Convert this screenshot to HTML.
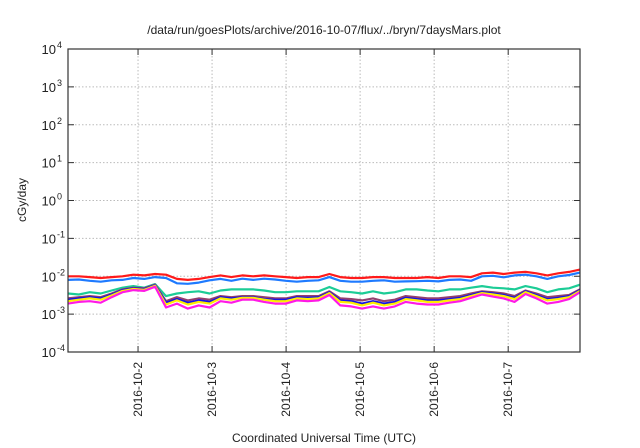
<!DOCTYPE html>
<html><head><meta charset="utf-8"><style>
body{margin:0;background:#fff;}
svg{display:block;font-family:"Liberation Sans",sans-serif;}
</style></head><body>
<svg id="chart" width="640" height="448" viewBox="0 0 640 448">
<text x="324" y="34" font-size="12" text-anchor="middle" fill="#222">/data/run/goesPlots/archive/2016-10-07/flux/../bryn/7daysMars.plot</text>
<text transform="translate(26,200) rotate(-90)" font-size="12" text-anchor="middle" fill="#222">cGy/day</text>
<text x="324" y="442" font-size="12" text-anchor="middle" fill="#222">Coordinated Universal Time (UTC)</text>
<g id="grid"></g>
<g id="ticks"></g>
<g id="series"></g>
<rect x="68" y="49" width="512" height="303" fill="none" stroke="#333" stroke-width="1.2"/>
</svg>
<script>
const yExponents=[-4,-3,-2,-1,0,1,2,3,4];
const xTickDays=[2,3,4,5,6,7];
const xTickLabels=["2016-10-2","2016-10-3","2016-10-4","2016-10-5","2016-10-6","2016-10-7"];
const startDay=1.054, endDay=7.97;
const red=[10,10,9.5,9,9.5,10,11,10.5,11.5,11,8.5,8,8.5,9.5,10.5,9.5,10.5,10,10.5,10,9.5,9,9.5,9.5,11.5,9.5,9,9,9.5,9.5,9,9,9,9.5,9,10,10,9.5,12,12.5,11.5,12.5,13,12,10.5,12,13,15];
const azure=[8,8.2,7.6,7.2,7.8,8,9,8.5,9.5,9,6.5,6.3,6.8,7.8,8.5,7.6,8.6,8,8.6,8.2,7.6,7.2,7.6,7.8,9.5,7.6,7.2,7.2,7.6,7.8,7.2,7.3,7.4,7.6,7.3,8,8.2,7.6,10,10.3,9.4,10.5,11,10,8.5,10,10.8,12.5];
const teal=[3.5,3.3,3.8,3.5,4.2,5,5.5,5,6.2,3,3.5,3.8,4,3.5,4.2,4.5,4.5,4.5,4.2,3.8,3.8,4,4,4,5.2,4,3.8,3.5,4,3.5,3.8,4.5,4.5,4.2,4,4.5,4.5,5,5.5,5,4.8,4.5,5.5,4.8,3.8,4.5,4.8,6];
const purple=[2.6,2.8,3,2.8,3.5,4.5,5,4.8,6,2.2,2.8,2.3,2.6,2.4,3,2.8,3,3,2.8,2.6,2.6,3,3,3,4,2.6,2.5,2.3,2.6,2.2,2.4,3,2.8,2.6,2.6,2.8,3,3.5,4,3.8,3.5,3,4.2,3.5,2.8,3,3.2,4.5];
const blue=[2.4,2.6,2.8,2.6,3.3,4.3,4.8,4.6,5.8,2,2.5,2,2.3,2.1,2.8,2.6,2.8,2.8,2.5,2.4,2.4,2.8,2.7,2.8,3.8,2.3,2.2,1.9,2.2,1.9,2.1,2.7,2.5,2.3,2.3,2.5,2.7,3.2,3.8,3.5,3.2,2.7,4,3.2,2.5,2.7,3,4.3];
const yellow=[2.2,2.4,2.6,2.4,3.1,4.1,4.6,4.4,5.6,1.8,2.3,1.8,2.1,1.9,2.6,2.4,2.7,2.7,2.4,2.2,2.2,2.6,2.5,2.6,3.6,2.1,2,1.7,2,1.7,1.9,2.5,2.3,2.1,2.1,2.3,2.5,3,3.6,3.3,3,2.5,3.8,3,2.3,2.5,2.8,4.1];
const magenta=[1.9,2.1,2.2,2,2.8,3.8,4.3,4.1,5.3,1.5,1.9,1.4,1.7,1.5,2.2,2,2.4,2.4,2.1,1.9,1.9,2.3,2.2,2.3,3.2,1.7,1.6,1.4,1.6,1.4,1.6,2.1,1.9,1.8,1.8,2,2.2,2.7,3.3,2.9,2.6,2.1,3.4,2.6,1.9,2.1,2.5,3.8];
const seriesList=[[red,"#ff1a1a"],[azure,"#1e7aff"],[teal,"#1ccc96"],[purple,"#93406e"],[blue,"#1414e6"],[yellow,"#ffee00"],[magenta,"#ff1ae6"]];
const L=68,R=580,T=49,B=352;
const NS="http://www.w3.org/2000/svg";
function xS(d){return L+(d-startDay)/(endDay-startDay)*(R-L);}
function yS(v){return B-(Math.log10(v)+4)/8*(B-T);}
function mk(tag,attrs,parent){const e=document.createElementNS(NS,tag);for(const k in attrs)e.setAttribute(k,attrs[k]);parent.appendChild(e);return e;}
const grid=document.getElementById('grid'),ticks=document.getElementById('ticks'),ser=document.getElementById('series');
yExponents.forEach(p=>{
 const y=yS(Math.pow(10,p));
 if(p>-4&&p<4){const g=mk('line',{x1:L,x2:R,y1:y,y2:y,stroke:'#bbb','stroke-dasharray':'1.5,2','stroke-width':1},grid);
 
 }
 const t=mk('text',{x:56,y:y+5,'font-size':13,'text-anchor':'end',fill:'#222'},ticks);
 
 
 t.textContent='10';
 const s=mk('text',{x:57,y:y-1,'font-size':9,fill:'#222'},ticks);
 
 
 s.textContent=String(p);
 mk('line',{x1:L,x2:L+6,y1:y,y2:y,stroke:'#333'},ticks);
 mk('line',{x1:R-6,x2:R,y1:y,y2:y,stroke:'#333'},ticks);
});
xTickDays.forEach((d,i)=>{
 const x=xS(d);
 const g=mk('line',{x1:x,x2:x,y1:T,y2:B,stroke:'#bbb','stroke-dasharray':'1.5,2','stroke-width':1},grid);
 
 
 mk('line',{x1:x,x2:x,y1:B-6,y2:B,stroke:'#333'},ticks);
 mk('line',{x1:x,x2:x,y1:T,y2:T+6,stroke:'#333'},ticks);
 const t=mk('text',{transform:`translate(${x+4},${362}) rotate(-90)`,'font-size':12,'text-anchor':'end',fill:'#222'},ticks);
 
 
 t.textContent=xTickLabels[i];
});
seriesList.forEach(([vals,col])=>{
 const n=vals.length;
 const pts=vals.map((v,i)=>{const d=startDay+i*(endDay-startDay)/(n-1);return xS(d).toFixed(1)+','+yS(v*1e-3).toFixed(1);}).join(' ');
 const p=mk('polyline',{points:pts,fill:'none',stroke:col,'stroke-width':2.2,'stroke-linejoin':'round'},ser);
 
 
});
</script>
</body></html>
